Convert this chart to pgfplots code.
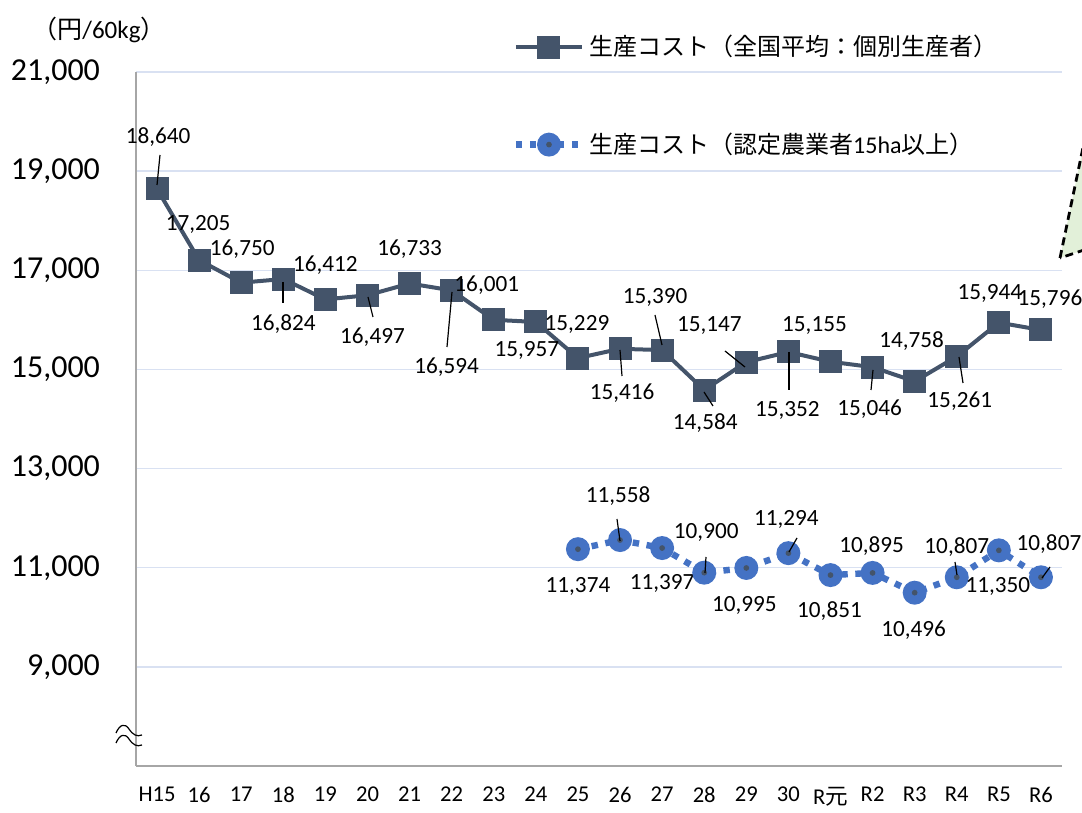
\documentclass[border=0pt]{standalone}
\usepackage{pgfplots}
\pgfplotsset{compat=1.18}
\usepackage{pgfplotstable}
\usepackage{fontspec}
\setmainfont{Carlito}
\newfontfamily\jp{Noto Sans CJK JP}

\definecolor{natc}{HTML}{44546A}
\definecolor{farmc}{HTML}{4472C4}
\definecolor{gridc}{HTML}{D9E1F2}
\definecolor{axc}{HTML}{A6A6A6}
\definecolor{callc}{HTML}{E2F0D9}

\newcommand{\lbl}{\fontsize{11.6}{13}\selectfont}

% blue circle with a small dark dot in the middle
\pgfdeclareplotmark{ringdot}{%
  \pgfpathcircle{\pgfpointorigin}{\pgfplotmarksize}%
  \pgfsetfillcolor{farmc}\pgfusepathqfill
  \pgfpathcircle{\pgfpointorigin}{0.24\pgfplotmarksize}%
  \pgfsetfillcolor{natc}\pgfusepathqfill}

\pgfplotsset{
  natstyle/.style={natc, line width=2pt, mark=square*, mark size=4.75pt, mark options={solid}},
  farmstyle/.style={farmc, line width=3.2pt, dash pattern=on 3.2pt off 3.8pt,
      mark=ringdot, mark size=6pt},
  % label offsets (dx, dy) in px of the reference
  offlabels/.style={
    nodes near coords, point meta=explicit symbolic,
    nodes near coords align={center},
    visualization depends on={\thisrow{dx}\as\labdx},
    visualization depends on={\thisrow{dy}\as\labdy},
    every node near coord/.append style={text=black, font=\lbl,
        xshift={\labdx*0.5pt}, yshift={\labdy*0.5pt}},
  },
}

% x = year index
\pgfplotstableread{
x y dx dy lab
0 18640 1 52 18,640
1 17205 -1 36 17,205
2 16750 1 34 16,750
3 16824 0 -45 16,824
4 16412 0 34 16,412
5 16497 5 -42 16,497
6 16733 0 34 16,733
7 16594 -5 -77 16,594
8 16001 -7 35 16,001
9 15957 -9 -28 15,957
10 15229 -1 34 15,229
11 15416 2 -44 15,416
12 15390 -7 53 15,390
13 14584 1 -33 14,584
14 15147 -37 37 15,147
15 15352 -1 -58 15,352
16 15155 -16 36 15,155
17 15046 -3 -42 15,046
18 14758 -3 40 14,758
19 15261 3 -45 15,261
20 15944 -9 29 15,944
21 15796 9 31 15,796
}\natl

\pgfplotstableread{
x y dx dy lab
10 11374 0 -37 11,374
11 11558 -2 44 11,558
12 11397 0 -35 11,397
13 10900 2 40 10,900
14 10995 -2 -37 10,995
15 11294 -2 34 11,294
16 10851 -1 -36 10,851
17 10895 -1 27 10,895
18 10496 -1 -37 10,496
19 10807 0 30 10,807
20 11350 -1 -36 11,350
21 10807 8 33 10,807
}\farm

\begin{document}
\begin{tikzpicture}
\begin{axis}[
    scale only axis,
    width=463pt, height=347pt,
    xmin=-0.5, xmax=21.5,
    ymin=7000, ymax=21000,
    xtick={0,...,21},
    xticklabels={H15,16,17,18,19,20,21,22,23,24,25,26,27,28,29,30,R{\jp 元},R2,R3,R4,R5,R6},
    ytick={9000,11000,...,21000},
    scaled y ticks=false,
    yticklabel style={/pgf/number format/1000 sep={,}, /pgf/number format/assume math mode=true},
    ymajorgrids,
    grid style={draw=gridc, line width=0.7pt},
    axis x line*=bottom, axis y line*=left,
    axis line style={draw=axc, line width=0.8pt, -},
    major tick length=0pt,
    x tick label style={font=\fontsize{11.3}{13}\selectfont, yshift=-7pt},
    y tick label style={font=\fontsize{16}{18}\selectfont, xshift=-14.5pt},
    clip=false,
    legend cell align=left,
    legend style={draw=none, fill=none, at={(0.40,1.065)}, anchor=north west,
        font=\fontsize{12}{14}\selectfont, row sep=33pt},
    legend image code/.code={\draw[#1, mark repeat=2, mark phase=2]
        plot coordinates {(0pt,0pt) (16.5pt,0pt) (33pt,0pt)};},
]
\addplot[natstyle, offlabels, forget plot] table[x=x, y=y, meta=lab]{\natl};
\addplot[farmstyle, offlabels, forget plot] table[x=x, y=y, meta=lab]{\farm};

\addlegendimage{natstyle}
\addlegendentry{{\jp 生産コスト（全国平均：個別生産者）}}
\addlegendimage{farmstyle}
\addlegendentry{{\jp 生産コスト（認定農業者}15ha{\jp 以上）}}

\node[font=\fontsize{12.5}{14}\selectfont] at (rel axis cs:-0.04,1.0605)
    {{\jp （円}/60kg{\jp ）}};
\end{axis}

% leader lines, axis break and the cut-off callout, in px of the reference
\begin{scope}[x=0.5pt, y=-0.5pt, shift={(-68pt,383pt)}, line width=0.6pt]
  \clip (0,0) rectangle (1082,813);
  \draw (160,155) -- (157,185);
  \draw (283,282) -- (283,303);
  \draw (368,297) -- (373,317);
  \draw (452,292) -- (447,347);
  \draw (620,350) -- (622,376);
  \draw (662,345) -- (655,315);
  \draw (704,392) -- (713,406);
  \draw (725,351) -- (745,367);
  \draw (789,352) -- (789,390);
  \draw (873,370) -- (871,390);
  \draw (959,357) -- (963,383);
  \draw (617,519) -- (620,541);
  \draw (706,557) -- (705,573);
  \draw (797,538) -- (789,552);
  \draw (955,562) -- (957,575);
  \draw (1050,567) -- (1042,578);
  \draw (116,733) .. controls (120,724) and (125,723) .. (129,729)
        .. controls (133,735) and (137,737) .. (142,735);
  \draw (116,743) .. controls (120,734) and (125,733) .. (129,739)
        .. controls (133,745) and (137,747) .. (142,745);
  \draw[line width=1.4pt, dash pattern=on 4pt off 2.5pt, fill=callc]
    (1060,258) -- (1090,114) -- (1090,248) -- cycle;
\end{scope}
% page = the reference's frame
\pgfresetboundingbox
\path[x=0.5pt, y=-0.5pt, shift={(-68pt,383pt)}] (0,0) rectangle (1082,813);
\end{tikzpicture}
\end{document}
